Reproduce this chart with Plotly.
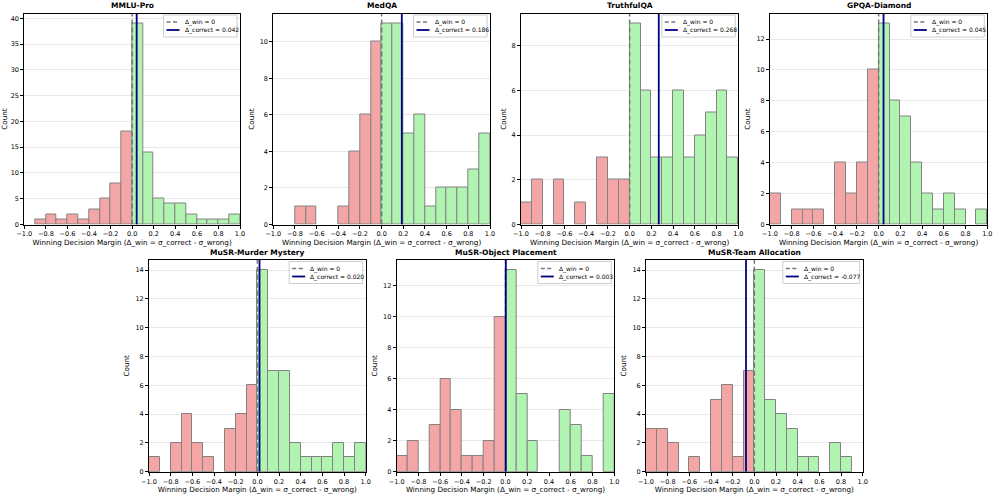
import numpy as np
import plotly.graph_objects as go

# ---------------- data ----------------
BIN_EDGES = [-1.0, -0.9, -0.8, -0.7, -0.6, -0.5, -0.4, -0.3, -0.2, -0.1, 0.0,
             0.1, 0.2, 0.3, 0.4, 0.5, 0.6, 0.7, 0.8, 0.9, 1.0]
X_TICKS = [-1.0, -0.8, -0.6, -0.4, -0.2, 0.0, 0.2, 0.4, 0.6, 0.8, 1.0]

DATASETS = ["MMLU-Pro", "MedQA", "TruthfulQA", "GPQA-Diamond",
            "MuSR-Murder Mystery", "MuSR-Object Placement", "MuSR-Team Allocation"]

MMLU_PRO = [0, 1, 2, 1, 2, 1, 3, 5, 8, 18, 39, 14, 5, 4, 4, 2, 1, 1, 1, 2]
MEDQA = [0, 0, 1, 1, 0, 0, 1, 4, 6, 10, 11, 11, 5, 6, 1, 2, 2, 2, 3, 5]
TRUTHFULQA = [1, 2, 0, 2, 0, 1, 0, 3, 2, 2, 9, 6, 3, 3, 6, 3, 4, 5, 6, 3]
GPQA_DIAMOND = [2, 0, 1, 1, 1, 0, 4, 2, 4, 10, 13, 8, 7, 4, 2, 1, 2, 1, 0, 1]
MUSR_MURDER = [1, 0, 2, 4, 2, 1, 0, 3, 4, 6, 14, 7, 7, 2, 1, 1, 1, 2, 1, 2]
MUSR_OBJECT = [1, 2, 0, 3, 6, 4, 1, 1, 2, 10, 13, 5, 2, 0, 0, 4, 3, 1, 0, 5]
MUSR_TEAM = [3, 3, 2, 0, 1, 0, 5, 6, 1, 7, 14, 5, 4, 3, 1, 1, 0, 2, 1, 0]

COUNTS = [MMLU_PRO, MEDQA, TRUTHFULQA, GPQA_DIAMOND, MUSR_MURDER, MUSR_OBJECT, MUSR_TEAM]
DELTA_CORRECT = [0.042, 0.186, 0.268, 0.045, 0.020, 0.003, -0.077]
Y_DTICK = [5, 2, 2, 2, 2, 2, 2]

# ---------------- layout constants ----------------
W, H = 996, 495
# axis boxes in pixels: (left, right, top, bottom)
BOXES = [
    (24.3, 240.0, 13.5, 224.5),
    (273.3, 490.0, 13.5, 224.5),
    (521.0, 738.3, 13.5, 224.5),
    (770.0, 987.3, 13.5, 224.5),
    (149.0, 365.7, 260.0, 471.7),
    (396.7, 614.3, 260.0, 471.7),
    (646.0, 862.7, 260.0, 471.7),
]

RED = "rgb(244,166,166)"
GREEN = "rgb(177,243,177)"
EDGE = "rgb(130,130,130)"
DASH_GRAY = "rgb(120,120,120)"
FONT = "DejaVu Sans"


def px(x):
    return x / W


def py(y):
    return 1 - y / H


fig = go.Figure()
layout = dict(
    width=W, height=H,
    margin=dict(l=0, r=0, t=0, b=0),
    paper_bgcolor="white", plot_bgcolor="white",
    font=dict(family=FONT, size=7, color="black"),
    bargap=0, barmode="overlay", showlegend=False,
    annotations=[], shapes=[],
)

edges = np.array(BIN_EDGES)
centers = (edges[:-1] + edges[1:]) / 2
widths = edges[1:] - edges[:-1]

for i, (name, counts, dc) in enumerate(zip(DATASETS, COUNTS, DELTA_CORRECT)):
    n = i + 1
    xa = "x" if n == 1 else f"x{n}"
    ya = "y" if n == 1 else f"y{n}"
    counts = np.array(counts)
    ymax = counts.max() * 1.05

    for mask, col in ((centers < 0, RED), (centers > 0, GREEN)):
        m = mask & (counts > 0)
        fig.add_trace(go.Bar(
            x=centers[m], y=counts[m], width=widths[m],
            marker=dict(color=col, line=dict(color=EDGE, width=1)),
            xaxis=xa, yaxis=ya, showlegend=False, hoverinfo="skip",
        ))

    win_label = "Δ_win = 0"
    corr_label = f"Δ_correct = {dc:.3f}"
    fig.add_trace(go.Scatter(
        x=[0, 0], y=[0, ymax], mode="lines",
        line=dict(color=DASH_GRAY, dash="5px,3px", width=1.5),
        name=win_label, xaxis=xa, yaxis=ya, showlegend=False,
    ))
    fig.add_trace(go.Scatter(
        x=[dc, dc], y=[0, ymax], mode="lines",
        line=dict(color="navy", width=1.8),
        name=corr_label, xaxis=xa, yaxis=ya, showlegend=False,
    ))

    L, R, T, B = BOXES[i]
    xd = [px(L), px(R)]
    yd = [py(B), py(T)]
    xkey = "xaxis" if n == 1 else f"xaxis{n}"
    ykey = "yaxis" if n == 1 else f"yaxis{n}"
    layout[xkey] = dict(
        domain=xd, anchor=ya, range=[-1.0, 1.0],
        tickvals=X_TICKS, tickformat=".1f",
        ticks="outside", ticklen=3, tickcolor="black",
        showline=True, linecolor="black", linewidth=1, mirror=True,
        showgrid=False, zeroline=False,
        tickfont=dict(size=6.5),
        title=dict(text="Winning Decision Margin (Δ_win = σ_correct - σ_wrong)",
                   font=dict(size=7.2), standoff=2),
        automargin=False,
    )
    layout[ykey] = dict(
        domain=yd, anchor=xa, range=[0, ymax], dtick=Y_DTICK[i], tick0=0,
        ticks="outside", ticklen=3, tickcolor="black",
        showline=True, linecolor="black", linewidth=1, mirror=True,
        showgrid=True, gridcolor="rgba(0,0,0,0.09)", gridwidth=1,
        zeroline=False,
        tickfont=dict(size=6.5),
        title=dict(text="Count", font=dict(size=7.2), standoff=4),
        automargin=False,
    )

    # matplotlib-style compact legend box (top-right inside the axes)
    bw = 56.5 + 3.4 * len(f"{dc:.3f}")
    br, bt = R - 3, T + 1.5
    bl, bb = br - bw, bt + 22
    layout["shapes"].append(dict(
        type="rect", xref="paper", yref="paper",
        x0=px(bl), x1=px(br), y0=py(bb), y1=py(bt),
        fillcolor="rgba(255,255,255,0.85)", line=dict(color="rgb(205,205,205)", width=1),
        layer="above",
    ))
    for k, (lbl, col, dash, wdt) in enumerate(((win_label, DASH_GRAY, "4px,2.5px", 1.5),
                                               (corr_label, "navy", "solid", 1.8))):
        yc = bt + 7 + 8 * k
        layout["shapes"].append(dict(
            type="line", xref="paper", yref="paper",
            x0=px(bl + 3), x1=px(bl + 16), y0=py(yc), y1=py(yc),
            line=dict(color=col, width=wdt, dash=dash), layer="above",
        ))
        layout["annotations"].append(dict(
            text=lbl, x=px(bl + 20), y=py(yc), xref="paper", yref="paper",
            xanchor="left", yanchor="middle", showarrow=False,
            font=dict(size=6, family=FONT), borderpad=0,
        ))

    layout["annotations"].append(dict(
        text=f"<b>{name}</b>", x=(xd[0] + xd[1]) / 2, y=yd[1], xref="paper", yref="paper",
        xanchor="center", yanchor="bottom", showarrow=False, yshift=1,
        font=dict(size=7.5, family=FONT),
    ))

fig.update_layout(**layout)
fig.write_html("out.html", config={"displayModeBar": False},
               post_script="document.body.style.margin='0px';")
